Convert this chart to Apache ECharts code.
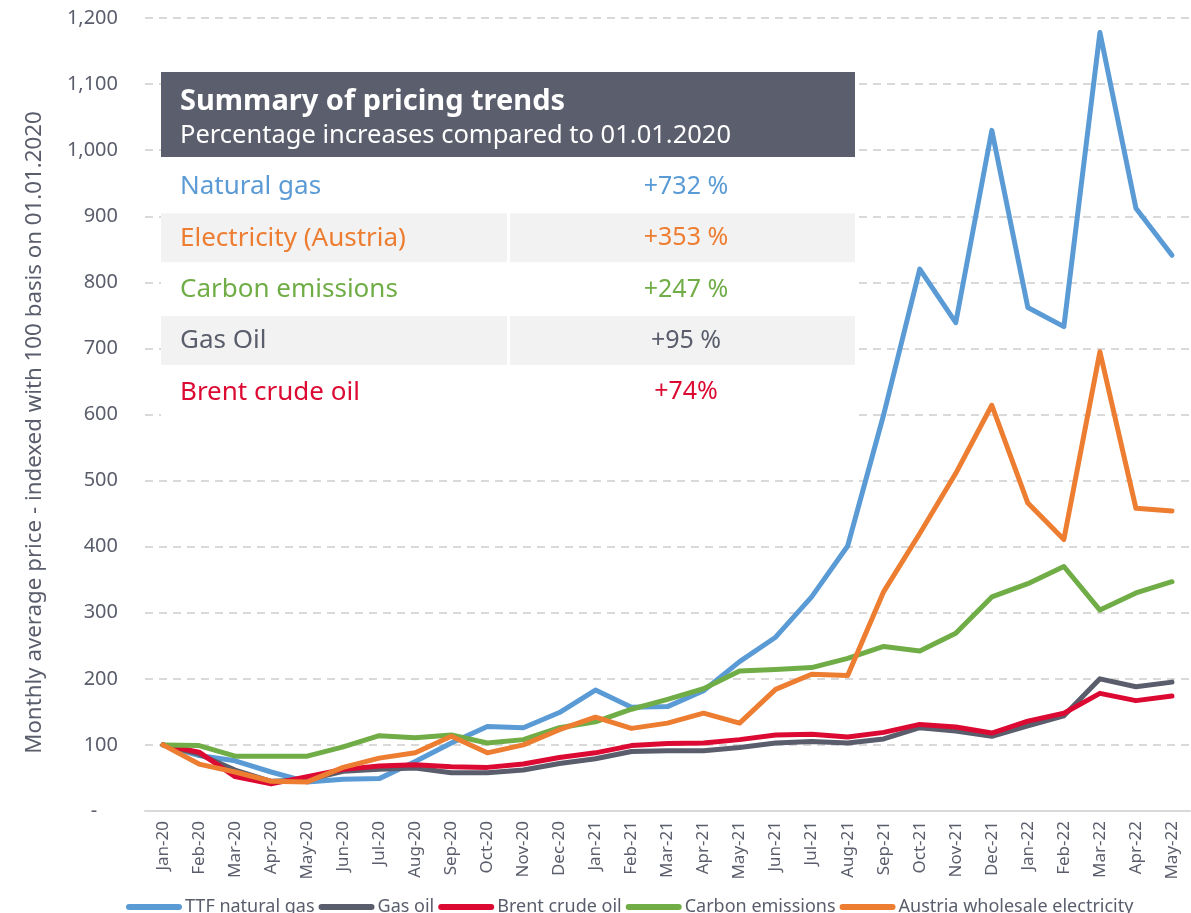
<!DOCTYPE html>
<html lang="en">
  <head>
    <meta charset="UTF-8" />
    <title>Summary of pricing trends</title>
    <style>
      html, body { margin: 0; padding: 0; background: #fff; }
      #main { width: 1191px; height: 913px; }
    </style>
  </head>
  <body>
    <div id="main"></div>

    <script src="https://cdn.jsdelivr.net/npm/echarts@6/dist/echarts.min.js"></script>
    <script>
      const months = [
        'Jan-20', 'Feb-20', 'Mar-20', 'Apr-20', 'May-20', 'Jun-20', 'Jul-20', 'Aug-20', 'Sep-20', 'Oct-20', 'Nov-20', 'Dec-20',
        'Jan-21', 'Feb-21', 'Mar-21', 'Apr-21', 'May-21', 'Jun-21', 'Jul-21', 'Aug-21', 'Sep-21', 'Oct-21', 'Nov-21', 'Dec-21',
        'Jan-22', 'Feb-22', 'Mar-22', 'Apr-22', 'May-22'
      ]
      const ttfGas = [
        100, 84, 76, 59, 44, 48, 49, 75, 103, 128, 126, 149,
        183, 157, 158, 182, 226, 263, 324, 401, 600, 820, 739, 1030,
        762, 733, 1178, 912, 841
      ]
      const gasOil = [
        100, 86, 62, 45, 47, 60, 63, 65, 58, 58, 62, 72,
        79, 90, 91, 91, 96, 103, 105, 103, 109, 126, 121, 113,
        129, 144, 200, 188, 195
      ]
      const brent = [
        100, 89, 52, 41, 52, 63, 68, 70, 67, 66, 71, 81,
        88, 99, 102, 103, 108, 115, 116, 112, 119, 131, 127, 118,
        136, 148, 178, 167, 174
      ]
      const carbon = [
        100, 99, 83, 83, 83, 97, 114, 111, 115, 103, 108, 126,
        135, 154, 169, 185, 212, 214, 217, 231, 249, 242, 269, 324,
        344, 370, 304, 330, 347
      ]
      const electricity = [
        100, 71, 59, 45, 44, 66, 80, 88, 113, 88, 100, 123,
        142, 125, 133, 148, 133, 184, 207, 205, 332, 420, 511, 614,
        466, 411, 695, 458, 454
      ]

      // summary table
      const summaryLabels = ['Natural gas', 'Electricity (Austria)', 'Carbon emissions', 'Gas Oil', 'Brent crude oil']
      const summaryValues = ['+732 %', '+353 %', '+247 %', '+95 %', '+74%']
      const summaryColors = ['#5b9bd5', '#ed7d31', '#70ad47', '#5a5d6b', '#dc0a32']

      const font = '"Noto Sans", "Open Sans", sans-serif'
      const textGray = '#5a5d6b'
      const pill = 'path://M3,0 L52,0 A3,3 0 0 1 52,6 L3,6 A3,3 0 0 1 3,0 Z'

      let myChart = echarts.init(document.getElementById('main'))

      // table graphics (drawn above the grid lines)
      let graphics = [
        {
          type: 'rect', z: 100,
          shape: { x: 161, y: 157, width: 694, height: 262 },
          style: { fill: '#fff' }
        },
        {
          type: 'rect', z: 100,
          shape: { x: 161, y: 72, width: 694, height: 85 },
          style: { fill: '#5b5e6c' }
        },
        {
          type: 'text', z: 101,
          x: 180, y: 102,
          style: { text: 'Summary of pricing trends', fill: '#fff', font: 'bold 29px ' + font, textVerticalAlign: 'middle' }
        },
        {
          type: 'text', z: 101,
          x: 180, y: 136,
          style: { text: 'Percentage increases compared to 01.01.2020', fill: '#fff', font: '25.5px ' + font, textVerticalAlign: 'middle' }
        }
      ]
      summaryLabels.forEach((lab, i) => {
        let cy = 187 + i * 51.3
        if (i % 2 === 1) {
          graphics.push({ type: 'rect', z: 100, shape: { x: 161, y: cy - 25, width: 346, height: 49 }, style: { fill: '#f2f2f2' } })
          graphics.push({ type: 'rect', z: 100, shape: { x: 510, y: cy - 25, width: 345, height: 49 }, style: { fill: '#f2f2f2' } })
        }
        graphics.push({
          type: 'text', z: 101, x: 180, y: cy,
          style: { text: lab, fill: summaryColors[i], font: '26px ' + font, textVerticalAlign: 'middle' }
        })
        graphics.push({
          type: 'text', z: 101, x: 686, y: cy,
          style: { text: summaryValues[i], fill: summaryColors[i], font: '25px ' + font, textVerticalAlign: 'middle', textAlign: 'center' }
        })
      })

      function makeLine(name, data, color) {
        return {
          name: name,
          type: 'line',
          data: data,
          symbol: 'none',
          lineStyle: { width: 5, color: color, cap: 'round', join: 'round' },
          itemStyle: { color: color },
          emphasis: { disabled: true }
        }
      }

      let option = {
        animation: false,
        textStyle: { fontFamily: font },
        grid: { left: 145, right: 1, top: 18, bottom: 102 },
        legend: {
          top: 893,
          left: 121,
          itemWidth: 56,
          itemHeight: 7,
          itemGap: 4,
          icon: pill,
          textStyle: { fontSize: 18, color: textGray, fontFamily: font, padding: [0, 0, 0, -2] },
          data: ['TTF natural gas', 'Gas oil', 'Brent crude oil', 'Carbon emissions', 'Austria wholesale electricity']
        },
        xAxis: {
          type: 'category',
          data: months,
          axisLine: { lineStyle: { color: '#d9d9d9', width: 2 } },
          axisTick: { show: false },
          axisLabel: { rotate: 90, fontSize: 17, color: textGray, margin: 10 }
        },
        yAxis: {
          type: 'value',
          min: 0,
          max: 1200,
          interval: 100,
          name: 'Monthly average price - indexed with 100 basis on 01.01.2020',
          nameLocation: 'middle',
          nameGap: 99,
          nameTextStyle: { fontSize: 22.3, color: textGray, padding: [0, 36, 0, 0] },
          axisLine: { show: false },
          axisTick: { show: false },
          axisLabel: {
            fontSize: 20,
            color: textGray,
            margin: 27,
            formatter: v => (v === 0 ? '-    ' : v.toLocaleString('en-US'))
          },
          splitLine: { lineStyle: { color: '#d9d9d9', type: [8, 6], width: 2 } }
        },
        graphic: graphics,
        series: [
          makeLine('TTF natural gas', ttfGas, '#5b9bd5'),
          makeLine('Gas oil', gasOil, '#5a5d6b'),
          makeLine('Brent crude oil', brent, '#dc0a32'),
          makeLine('Carbon emissions', carbon, '#70ad47'),
          makeLine('Austria wholesale electricity', electricity, '#ed7d31')
        ]
      }
      myChart.setOption(option)
    </script>
  </body>
</html>
